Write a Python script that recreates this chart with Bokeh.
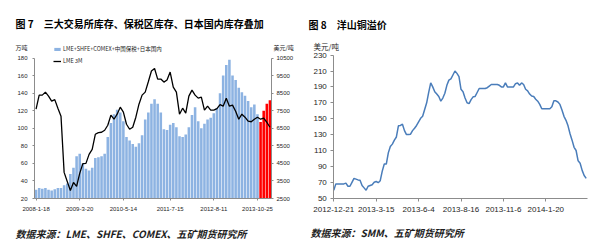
from bokeh.plotting import figure
from bokeh.models import (ColumnDataSource, Range1d, LinearAxis, FixedTicker,
                          Label, Legend, LegendItem)
from bokeh.layouts import row
from bokeh.embed import file_html
from bokeh.resources import INLINE

# ---------------- data: figure 7 ----------------
stock_values = [30, 32, 31, 32, 30, 29, 30.5, 32, 32, 35,
                37, 48, 55, 68, 71, 60, 54, 52, 55, 66,
                67, 68, 71, 90, 106, 116, 121, 118, 108, 90,
                86, 82, 79, 83, 92, 110, 118, 128, 133, 128,
                118, 99, 98, 104, 106, 101, 91, 90, 93, 101,
                115, 124, 108, 100, 105, 110, 112, 117, 123, 140,
                160, 172, 178, 160, 155, 146, 141, 137, 131, 124,
                127, 116, 107, 120, 128, 132]
lme3m_values = [7586, 8386, 8386, 8557, 8329, 8043, 8129, 7643, 7186, 3986,
                3471, 2957, 3414, 3186, 3929, 4483, 4500, 5014, 5300, 6157,
                6254, 6271, 6386, 6671, 7243, 7014, 7300, 7700, 7414, 6729,
                6443, 6557, 7129, 7871, 8386, 8557, 9146, 9757, 9900, 9300,
                9300, 9129, 9243, 9700, 8843, 8557, 7300, 7643, 7357, 8329,
                8671, 8386, 8214, 8271, 7529, 7757, 7529, 7529, 7614, 7843,
                7757, 8214, 7757, 7814, 7471, 7014, 7300, 7129, 6900, 6871,
                7014, 7129, 7014, 7071, 6843, 6557]
highlight_last = 4
left_tick_idx = [0, 14, 28, 43, 57, 71]
left_tick_labels = ["2008-1-18", "2009-3-20", "2010-5-14", "2011-7-15",
                    "2012-8-11", "2013-10-25"]
left_y_ticks = [20, 40, 60, 80, 100, 120, 140, 160, 180]
right_y_ticks = [2500, 3500, 4500, 5500, 6500, 7500, 8500, 9500, 10500]

# ---------------- data: figure 8 ----------------
premium_values = [60, 68, 68, 68, 68, 68, 69, 65, 65, 70,
                  75, 74, 73, 72.5, 66, 63, 60, 65, 66, 67,
                  70, 71, 69.5, 72, 84, 93, 93, 107, 115, 118,
                  123, 127, 141, 141.5, 143, 135, 130, 130, 130.5, 135,
                  138, 141.5, 146, 150.5, 153, 161.5, 170, 183, 195, 190,
                  184, 181, 178, 172, 176, 182, 192, 198.5, 200, 205,
                  210, 207, 203, 187, 184, 176, 170, 169, 174, 177.5,
                  178, 183, 188, 188, 188, 188, 189, 191, 193, 193,
                  193, 193, 192, 190, 190, 195, 190, 190, 190, 190,
                  194, 195, 192, 195, 193, 187, 185, 181, 178.5, 178,
                  174.5, 172, 168, 162.5, 162.5, 162.5, 162.5, 162.5, 165, 172.5,
                  172.5, 171, 168, 161, 153, 148, 141, 131, 123, 114,
                  110, 97, 94, 85, 78.5, 75]
right_tick_idx = [0, 21, 42, 63, 84, 105]
right_tick_labels = ["2012-12-21", "2013-3-15", "2013-6-4", "2013-8-16",
                     "2013-11-6", "2014-1-20"]
premium_y_ticks = [50, 70, 90, 110, 130, 150, 170, 190, 210, 230]

BLUE = "#8DB3E2"
RED = "#FF0000"
AXIS = "#8C8C8C"
TXT = "#262626"
CJK = "Noto Sans CJK SC"
LAT = "Liberation Sans"
W, H = 300, 249


def full_range(d0, d1, p0, p1, size):
    """Range whose values d0/d1 land on pixels p0/p1 of a canvas `size` long."""
    k = (d1 - d0) / (p1 - p0)
    start = d0 - p0 * k
    return Range1d(start, start + size * k)


def style_axis(ax, size, standoff, tick_out):
    ax.axis_line_color = AXIS
    ax.major_tick_line_color = AXIS
    ax.minor_tick_line_color = None
    ax.major_tick_out = tick_out
    ax.major_tick_in = 0
    ax.major_label_text_font = LAT
    ax.major_label_text_font_size = size
    ax.major_label_text_color = TXT
    ax.major_label_standoff = standoff


def base_fig(xr, yr):
    p = figure(width=W, height=H, x_range=xr, y_range=yr, output_backend="svg",
               toolbar_location=None, x_axis_type=None, y_axis_type=None,
               min_border_left=0, min_border_right=0, min_border_top=0,
               min_border_bottom=0)
    p.extra_x_ranges = {"px": Range1d(0, W)}
    p.extra_y_ranges = {"py": Range1d(H, 0)}
    p.xgrid.visible = False
    p.ygrid.visible = False
    p.outline_line_color = None
    return p


def text(p, x, y, s, size, style="normal", color=TXT, font=CJK):
    p.add_layout(Label(x=x, y=y, x_range_name="px", y_range_name="py", text=s,
                       text_font=font, text_font_size=size, text_font_style=style,
                       text_color=color, text_baseline="middle", text_align="left"))


# ---------------- figure 7 ----------------
n = len(stock_values)
colors = [BLUE] * (n - highlight_last) + [RED] * highlight_last
src = ColumnDataSource(dict(x=list(range(n)), stock=stock_values,
                            lme=lme3m_values, color=colors))

x0, x1 = -0.5, n - 0.5
p1 = base_fig(full_range(x0, x1, 34, 271, W), full_range(20, 180, H - 198, H - 57.5, H))
p1.extra_y_ranges["usd"] = full_range(2500, 10500, H - 198, H - 57.5, H)

bars = p1.vbar(x="x", top="stock", bottom=20, width=0.82, fill_color="color",
               line_color=None, source=src)
lme_line = p1.line(x="x", y="lme", y_range_name="usd", line_color="black",
                   line_width=1.3, source=src)

xax = LinearAxis(ticker=FixedTicker(ticks=left_tick_idx), fixed_location=20,
                 bounds=(x0, x1),
                 major_label_overrides={i: l for i, l in zip(left_tick_idx, left_tick_labels)})
style_axis(xax, "6px", 6, 2)
p1.add_layout(xax, "below")
lax = LinearAxis(ticker=FixedTicker(ticks=left_y_ticks), fixed_location=x0, bounds=(20, 180))
style_axis(lax, "6px", 5, 2)
p1.add_layout(lax, "left")
rax = LinearAxis(y_range_name="usd", ticker=FixedTicker(ticks=right_y_ticks),
                 fixed_location=x1, bounds=(2500, 10500))
style_axis(rax, "6px", 3, 2)
p1.add_layout(rax, "right")

legend = Legend(items=[LegendItem(label="LME+SHFE+COMEX+中国保税+日本国内", renderers=[bars]),
                       LegendItem(label="LME 3M", renderers=[lme_line])],
                location=(53, H - 65), label_text_font=CJK, label_text_font_size="5.5px",
                label_text_color=TXT, glyph_width=8, glyph_height=4, label_height=6,
                label_standoff=2, spacing=4, padding=0, margin=0,
                background_fill_alpha=0, border_line_alpha=0)
p1.add_layout(legend)

text(p1, 15, 23, "图 7　三大交易所库存、保税区库存、日本国内库存叠加", "10px", "bold", "black")
text(p1, 15, 47, "万吨", "6px")
text(p1, 273, 47, "美元/吨", "6px")
text(p1, 15, 233, "数据来源：LME、SHFE、COMEX、五矿期货研究所", "10px", "bold italic", "#1F1F1F")

# ---------------- figure 8 ----------------
m = len(premium_values)
u0, u1 = 0, m - 0.5
p2 = base_fig(full_range(u0, u1, 33.3, 286.7, W), full_range(50, 230, H - 197.7, H - 54.6, H))
p2.line(x=list(range(m)), y=premium_values, line_color="#4A7DBA", line_width=1.5)

bx = LinearAxis(ticker=FixedTicker(ticks=right_tick_idx), fixed_location=50,
                bounds=(u0, u1),
                major_label_overrides={i: l for i, l in zip(right_tick_idx, right_tick_labels)})
style_axis(bx, "8px", 6, 3)
p2.add_layout(bx, "below")
ly = LinearAxis(ticker=FixedTicker(ticks=premium_y_ticks), fixed_location=u0, bounds=(50, 230))
style_axis(ly, "8px", 4, 3)
p2.add_layout(ly, "left")

text(p2, 8, 24, "图 8　洋山铜溢价", "10px", "bold", "black")
text(p2, 13, 46, "美元/吨", "7.5px")
text(p2, 10, 232, "数据来源：SMM、五矿期货研究所", "10px", "bold italic", "#1F1F1F")

layout = row(p1, p2)
open("out.html", "w").write(file_html(layout, INLINE))
